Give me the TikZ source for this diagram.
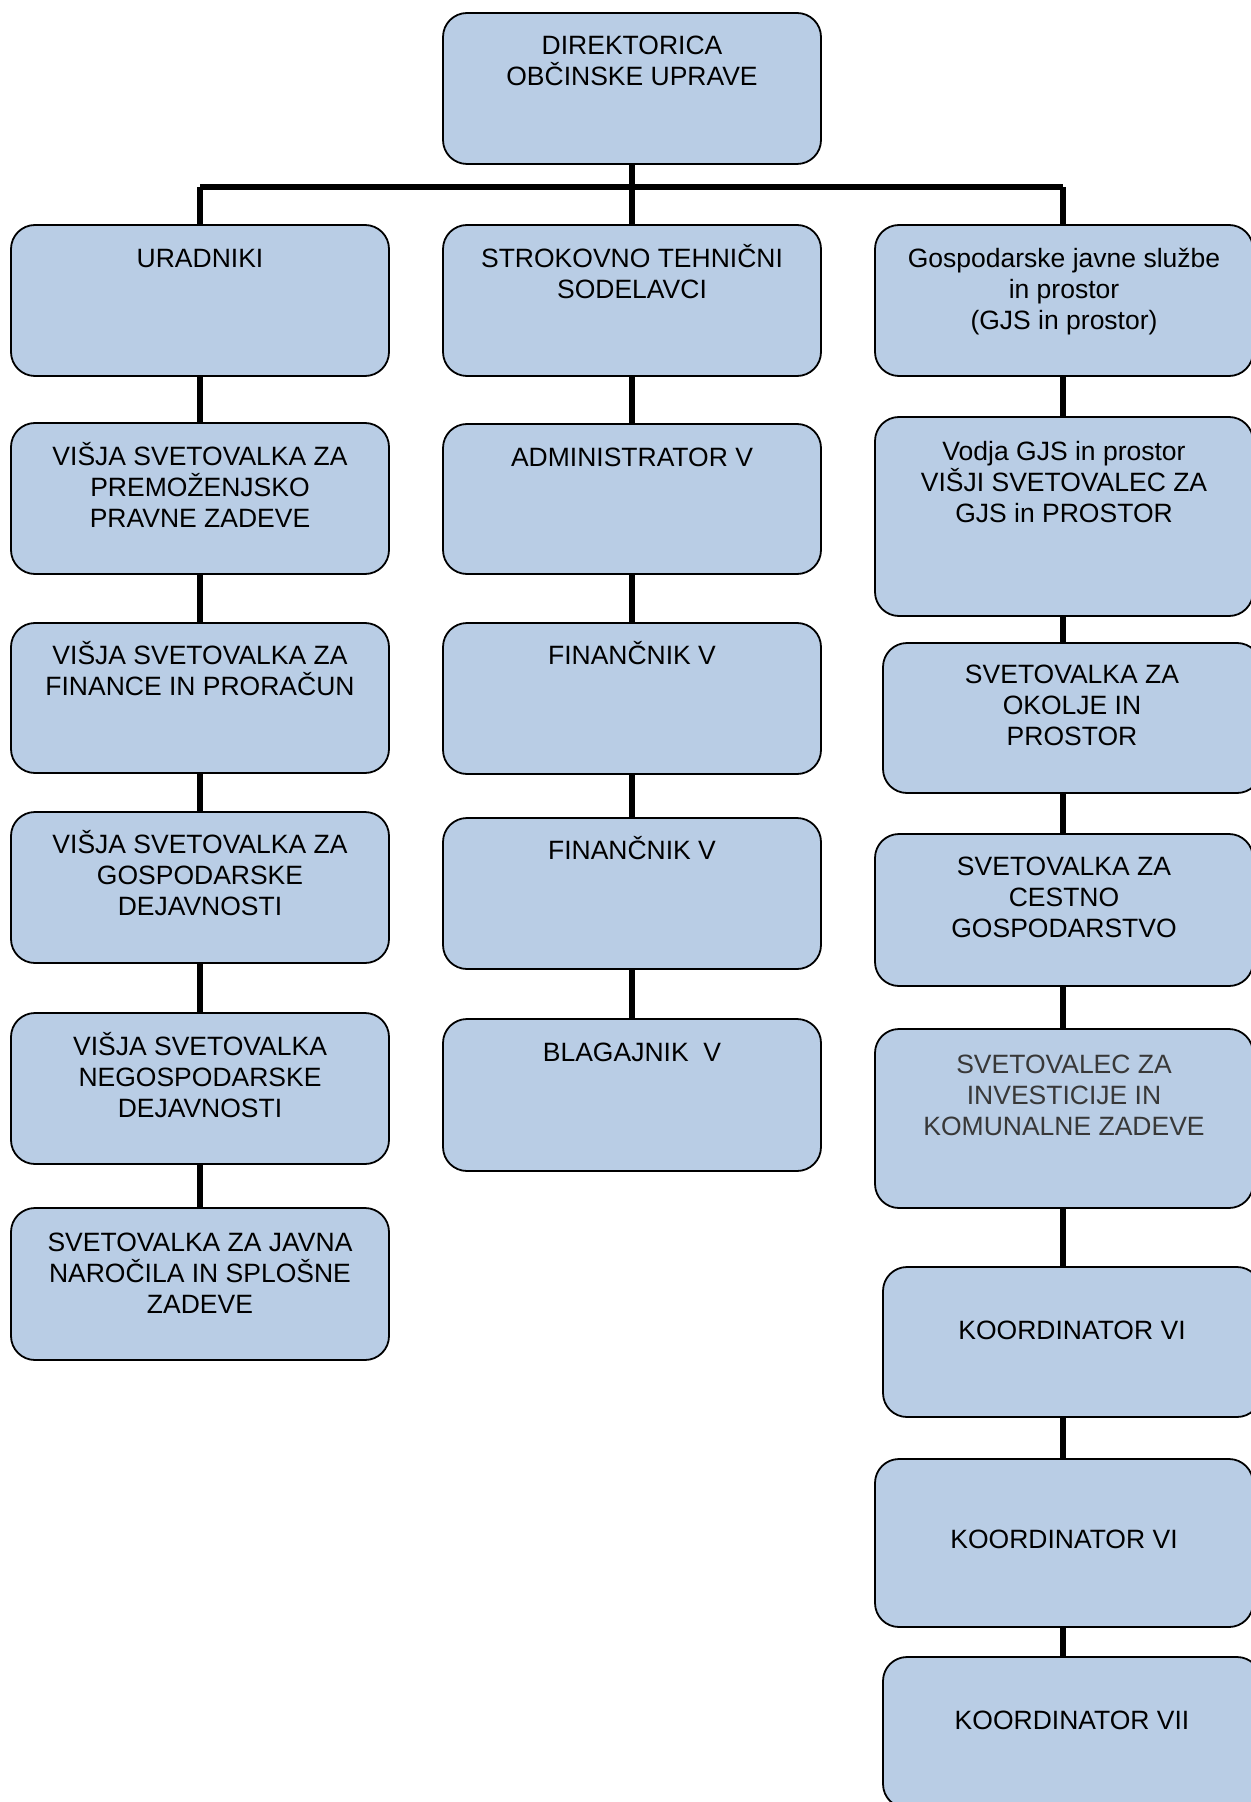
\documentclass[tikz,border=0pt]{standalone}
\usepackage{fontspec}
\setmainfont{Liberation Sans}
\definecolor{boxblue}{HTML}{B9CDE5}
\definecolor{graytext}{HTML}{383838}
\pgfdeclarelayer{bg}
\pgfsetlayers{bg,main}
\tikzset{
  orgbox/.style={draw=black, fill=boxblue, rounded corners=12pt, line width=0.9pt, inner sep=0pt, minimum width=189pt},
  lbl/.style={align=center, anchor=north, inner sep=0pt, font=\fontsize{13.25pt}{15.5pt}\selectfont},
  conn/.style={line width=2.8pt, draw=black},
  bar/.style={line width=3pt, draw=black}
}
\newcommand{\fl}{\rule{0pt}{13pt}}
\begin{document}
\begin{tikzpicture}[x=0.5pt,y=-0.5pt]
\useasboundingbox (0,0) rectangle (1251,1802);
% boxes
\node[orgbox, minimum height=75.5pt] (top) at (632,88.5) {};
\node[orgbox, minimum height=75.5pt] (l1) at (200,300.5) {};
\node[orgbox, minimum height=75.5pt] (m1) at (632,300.5) {};
\node[orgbox, minimum height=75.5pt] (r1) at (1064,300.5) {};
\node[orgbox, minimum height=75.5pt] (l2) at (200,498.5) {};
\node[orgbox, minimum height=75pt] (l3) at (200,698) {};
\node[orgbox, minimum height=75.5pt] (l4) at (200,887.5) {};
\node[orgbox, minimum height=75.5pt] (l5) at (200,1088.5) {};
\node[orgbox, minimum height=76pt] (l6) at (200,1284) {};
\node[orgbox, minimum height=75pt] (m2) at (632,499) {};
\node[orgbox, minimum height=75.5pt] (m3) at (632,698.5) {};
\node[orgbox, minimum height=75.5pt] (m4) at (632,893.5) {};
\node[orgbox, minimum height=76pt] (m5) at (632,1095) {};
\node[orgbox, minimum height=99.5pt] (r2) at (1064,516.5) {};
\node[orgbox, minimum height=75pt] (r3) at (1072,718) {};
\node[orgbox, minimum height=76pt] (r4) at (1064,910) {};
\node[orgbox, minimum height=89.5pt] (r5) at (1064,1118.5) {};
\node[orgbox, minimum height=75pt] (r6) at (1072,1342) {};
\node[orgbox, minimum height=84pt] (r7) at (1064,1543) {};
\node[orgbox, minimum height=75.5pt] (r8) at (1072,1732.5) {};
% labels
\node[lbl] (ttop) at (632,28) {\fl DIREKTORICA\\OBČINSKE UPRAVE};
\node[lbl] (tl1) at (200,241) {\fl URADNIKI};
\node[lbl] (tm1) at (632,241) {\fl STROKOVNO TEHNIČNI\\SODELAVCI};
\node[lbl] (tr1) at (1064,241) {\fl Gospodarske javne službe\\in prostor\\(GJS in prostor)};
\node[lbl] (tl2) at (200,439) {\fl VIŠJA SVETOVALKA ZA\\PREMOŽENJSKO\\PRAVNE ZADEVE};
\node[lbl] (tl3) at (200,638) {\fl VIŠJA SVETOVALKA ZA\\FINANCE IN PRORAČUN};
\node[lbl] (tl4) at (200,827) {\fl VIŠJA SVETOVALKA ZA\\GOSPODARSKE\\DEJAVNOSTI};
\node[lbl] (tl5) at (200,1029) {\fl VIŠJA SVETOVALKA\\NEGOSPODARSKE\\DEJAVNOSTI};
\node[lbl] (tl6) at (200,1225) {\fl SVETOVALKA ZA JAVNA\\NAROČILA IN SPLOŠNE\\ZADEVE};
\node[lbl] (tm2) at (632,440) {\fl ADMINISTRATOR V};
\node[lbl] (tm3) at (632,638) {\fl FINANČNIK V};
\node[lbl] (tm4) at (632,833) {\fl FINANČNIK V};
\node[lbl] (tm5) at (632,1035) {\fl BLAGAJNIK\ \ V};
\node[lbl] (tr2) at (1064,434) {\fl Vodja GJS in prostor\\VIŠJI SVETOVALEC ZA\\GJS in PROSTOR};
\node[lbl] (tr3) at (1072,657) {\fl SVETOVALKA ZA\\OKOLJE IN\\PROSTOR};
\node[lbl] (tr4) at (1064,849) {\fl SVETOVALKA ZA\\CESTNO\\GOSPODARSTVO};
\node[lbl, text=graytext] (tr5) at (1064,1047) {\fl SVETOVALEC ZA\\INVESTICIJE IN\\KOMUNALNE ZADEVE};
\node[lbl] (tr6) at (1072,1313) {\fl KOORDINATOR VI};
\node[lbl] (tr7) at (1064,1522) {\fl KOORDINATOR VI};
\node[lbl] (tr8) at (1072,1703) {\fl KOORDINATOR VII};
% connectors
\coordinate (barL) at (200,187);
\coordinate (barR) at (1063,187);
\coordinate (rx) at (1063,0);
\begin{pgfonlayer}{bg}
\draw[bar] (barL) -- (barR);
\draw[conn] (top.south) -- (m1.north);
\draw[conn] (barL) -- (l1.north);
\draw[conn] (barR) -- (r1.north -| barR);
\draw[conn] (l1) -- (l2);
\draw[conn] (l2) -- (l3);
\draw[conn] (l3) -- (l4);
\draw[conn] (l4) -- (l5);
\draw[conn] (l5) -- (l6);
\draw[conn] (m1) -- (m2);
\draw[conn] (m2) -- (m3);
\draw[conn] (m3) -- (m4);
\draw[conn] (m4) -- (m5);
\draw[conn] (r1.south -| rx) -- (r2.north -| rx);
\draw[conn] (r2.south -| rx) -- (r3.north -| rx);
\draw[conn] (r3.south -| rx) -- (r4.north -| rx);
\draw[conn] (r4.south -| rx) -- (r5.north -| rx);
\draw[conn] (r5.south -| rx) -- (r6.north -| rx);
\draw[conn] (r6.south -| rx) -- (r7.north -| rx);
\draw[conn] (r7.south -| rx) -- (r8.north -| rx);
\end{pgfonlayer}
\end{tikzpicture}
\end{document}
